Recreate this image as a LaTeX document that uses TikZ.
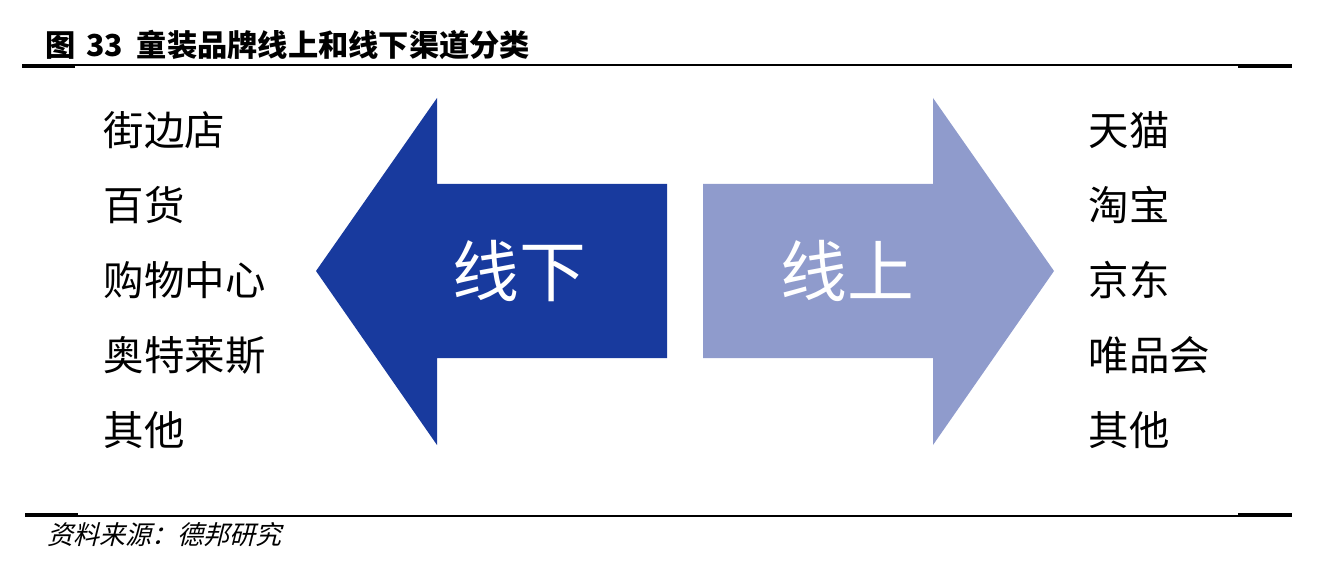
\documentclass[tikz,border=0pt]{standalone}
\usepackage{fontspec}
\setmainfont{Noto Sans CJK SC}
\newfontfamily\slantcjk[FakeSlant=0.25]{Noto Sans CJK SC}
\usepackage{tikz}
\usetikzlibrary{positioning}

\definecolor{offblue}{RGB}{24,58,158}
\definecolor{onblue}{RGB}{143,155,204}

\tikzset{
  item/.style={anchor=west, inner sep=0pt, font=\fontsize{11.5}{12}\selectfont},
  arrowlabel/.style={text=white, inner sep=0pt, font=\fontsize{19}{20}\selectfont},
}

\begin{document}
\begin{tikzpicture}[x=0.01cm, y=-0.01cm]
    \useasboundingbox (0, 0) rectangle (1330, 576);

    % Title and rules
    \node [anchor=west, inner sep=0pt, font=\fontsize{8.6}{9}\selectfont\bfseries] (title) at (45, 45) {图\hspace{0.35em}33\hspace{0.45em}童装品牌线上和线下渠道分类};
    \draw [line width=0.6pt] (22, 65) -- (1292, 65);
    \draw [line width=1.4pt] (22, 66) -- (75, 66);
    \draw [line width=1.4pt] (1238, 66) -- (1292, 66);

    \draw [line width=0.6pt] (25, 516) -- (1292, 516);
    \draw [line width=1.4pt] (25, 515) -- (78, 515);
    \draw [line width=1.4pt] (1238, 515) -- (1292, 515);
    \node [anchor=west, inner sep=0pt, font=\fontsize{7.4}{8}\selectfont\slantcjk] (source) at (47, 535) {资料来源：德邦研究};

    % Arrows
    \fill [offblue] (316, 271) -- (437, 98) -- (437, 184) -- (667, 184) -- (667, 358) -- (437, 358) -- (437, 445) -- cycle;
    \fill [onblue] (1054, 271) -- (933, 98) -- (933, 184) -- (703, 184) -- (703, 358) -- (933, 358) -- (933, 445) -- cycle;
    \node [arrowlabel] (offline) at (519, 271) {线下};
    \node [arrowlabel] (online) at (847, 271) {线上};

    % Offline channels
    \node [item] (shop) at (103, 130) {街边店};
    \node [item] (dept) at (103, 205) {百货};
    \node [item] (mall) at (103, 280) {购物中心};
    \node [item] (outlet) at (103, 355) {奥特莱斯};
    \node [item] (otheroff) at (103, 430) {其他};

    % Online channels
    \node [item] (tmall) at (1088, 130) {天猫};
    \node [item] (taobao) at (1088, 205) {淘宝};
    \node [item] (jd) at (1088, 280) {京东};
    \node [item] (vip) at (1088, 355) {唯品会};
    \node [item] (otheron) at (1088, 430) {其他};
\end{tikzpicture}
\end{document}
